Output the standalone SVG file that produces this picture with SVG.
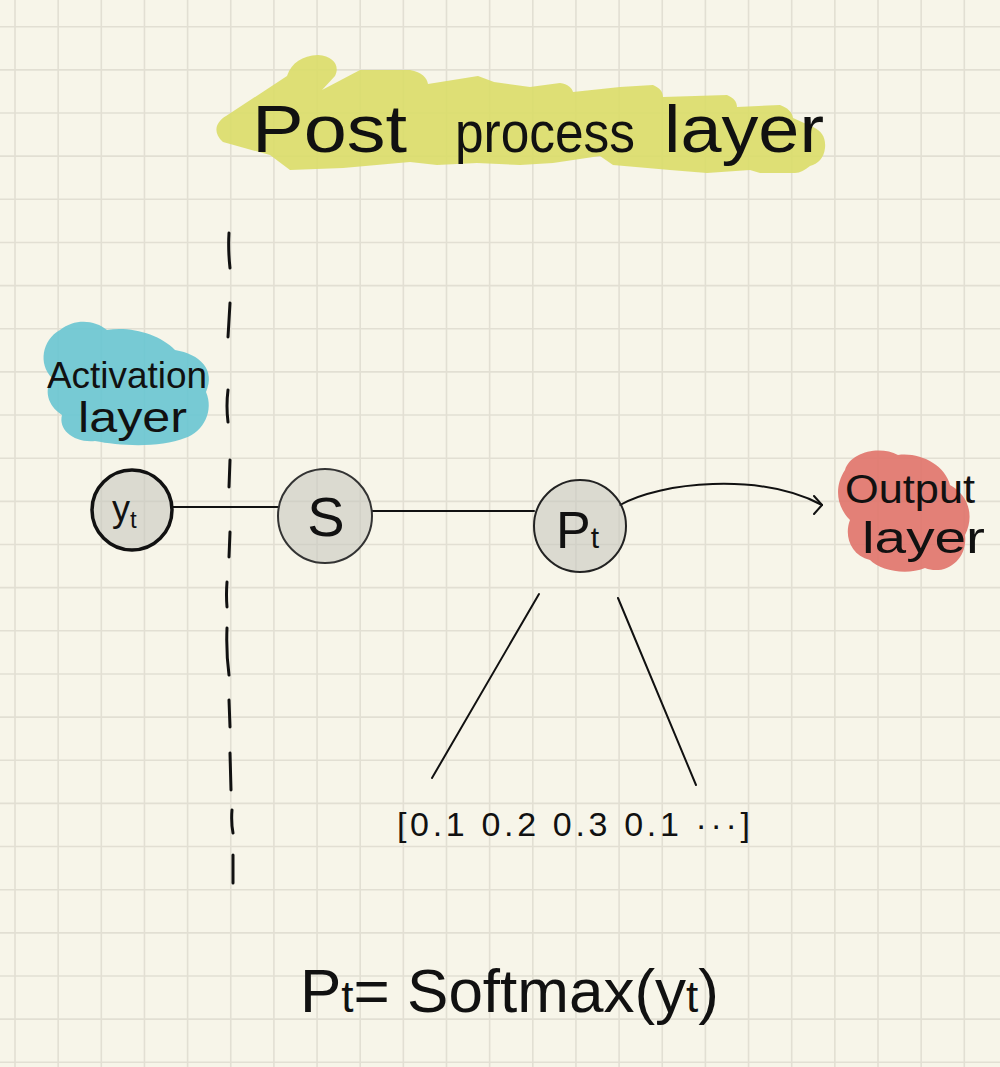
<svg xmlns="http://www.w3.org/2000/svg" width="1000" height="1067" viewBox="0 0 1000 1067">
  <defs>
    <style>
      .grid { stroke: #e2dfd3; stroke-width: 1.6; fill: none; }
      .hand { font-family: "Liberation Sans", "DejaVu Sans", sans-serif; fill: #111; }
      .node { fill: #c8c8c0; fill-opacity: 0.6; }
      .conn { stroke: #111; stroke-width: 2; fill: none; stroke-linecap: round; }
      .dash { stroke: #111; stroke-width: 3; fill: none; stroke-linecap: round; }
      .blob { opacity: 0.9; }
    </style>
    <marker id="chev" viewBox="0 0 10 20" refX="9" refY="10" markerWidth="10" markerHeight="20" markerUnits="userSpaceOnUse" orient="0">
      <path d="M1,1 L9,10 L1,19" fill="none" stroke="#111" stroke-width="2" stroke-linecap="round" stroke-linejoin="round"/>
    </marker>
  </defs>

  <rect width="1000" height="1067" fill="#f7f5e9"/>

  <g id="grid">
    <path class="grid" d="M15 0V1067M58.15 0V1067M101.3 0V1067M144.45 0V1067M187.6 0V1067M230.75 0V1067M273.9 0V1067M317.05 0V1067M360.2 0V1067M403.35 0V1067M446.5 0V1067M489.65 0V1067M532.8 0V1067M575.95 0V1067M619.1 0V1067M662.25 0V1067M705.4 0V1067M748.55 0V1067M791.7 0V1067M834.85 0V1067M878 0V1067M921.15 0V1067M964.3 0V1067"/>
    <path class="grid" d="M0 26.7H1000M0 69.85H1000M0 113H1000M0 156.15H1000M0 199.3H1000M0 242.45H1000M0 285.6H1000M0 328.75H1000M0 371.9H1000M0 415.05H1000M0 458.2H1000M0 501.35H1000M0 544.5H1000M0 587.65H1000M0 630.8H1000M0 673.95H1000M0 717.1H1000M0 760.25H1000M0 803.4H1000M0 846.55H1000M0 889.7H1000M0 932.85H1000M0 976H1000M0 1019.15H1000M0 1062.3H1000"/>
  </g>

  <g id="title">
    <path class="blob" fill="#dadd68" d="M223 142 C212 132 216 122 226 116 L287 76 C292 62 302 56 318 55 C334 56 340 66 335 76 L322 90 L360 70 L410 70 C422 72 427 78 428 84 L478 76 L494 82 L530 87 L560 83 C568 84 572 88 573 92 L620 87 L653 85 C660 88 663 92 663 97 L727 95 C734 98 737 102 737 107 L780 105 C788 108 792 112 793 118 L813 127 C822 131 826 138 825 148 C824 158 818 164 810 166 C805 170 800 173 795 173 L760 173 L750 170 L707 173 L670 170 L613 165 L600 156 L553 163 L520 165 L477 163 L437 165 L410 162 L343 168 L290 170 L270 155 Z"/>
    <text class="hand" y="152"><tspan x="252" font-size="66" textLength="155" lengthAdjust="spacingAndGlyphs">Post</tspan> <tspan x="455" font-size="58" textLength="180" lengthAdjust="spacingAndGlyphs">process</tspan> <tspan x="664" font-size="66" textLength="160" lengthAdjust="spacingAndGlyphs">layer</tspan></text>
  </g>

  <g id="activation-label">
    <path class="blob" fill="#68c5d2" d="M60 330 C75 318 95 320 107 330 C130 326 160 334 175 350 C200 354 216 370 206 392 C214 410 204 432 185 438 C160 448 120 446 95 441 C74 443 58 430 62 415 C47 405 44 390 52 378 C38 364 42 340 60 330 Z"/>
    <text class="hand"><tspan x="47" y="388" font-size="36" textLength="160" lengthAdjust="spacingAndGlyphs">Activation</tspan> <tspan x="78" y="432" font-size="42" textLength="109" lengthAdjust="spacingAndGlyphs">layer</tspan></text>
  </g>

  <g id="output-label">
    <path class="blob" fill="#e0736a" d="M845 470 C850 452 880 445 898 455 C920 452 945 465 950 485 C968 495 975 515 965 535 C968 560 945 576 925 568 C905 576 880 570 870 560 C850 555 844 535 850 520 C835 505 835 485 845 470 Z"/>
    <text class="hand"><tspan x="845" y="503" font-size="40" textLength="130" lengthAdjust="spacingAndGlyphs">Output</tspan> <tspan x="862" y="553" font-size="44" textLength="123" lengthAdjust="spacingAndGlyphs">layer</tspan></text>
  </g>

  <g id="separator">
    <path class="dash" d="M229 233 Q228 250 230 268 M230 303 L228 337 M228 390 Q226 406 228 422 M230 460 L229 487 M230 532 L229 557 M227 582 Q226 595 227 607 M227 628 Q226 652 229 675 M229 700 L230 727 M230 753 L231 790 M232 810 Q231 822 233 833 M233 855 L233 883"/>
  </g>

  <g id="connectors">
    <line class="conn" x1="172" y1="507" x2="278" y2="507"/>
    <line class="conn" x1="372" y1="511" x2="534" y2="511"/>
    <path class="conn" d="M620 505 C660 482 760 472 822 505" marker-end="url(#chev)"/>
    <line class="conn" x1="539" y1="594" x2="432" y2="778"/>
    <line class="conn" x1="618" y1="598" x2="696" y2="785"/>
  </g>

  <g id="node-yt">
    <circle class="node" cx="132" cy="510" r="40" stroke="#111" stroke-width="3.5"/>
    <text class="hand" x="112" y="521" font-size="36">y<tspan font-size="24" dy="7">t</tspan></text>
  </g>

  <g id="node-s">
    <circle class="node" cx="325" cy="516" r="47" stroke="#333" stroke-width="2"/>
    <text class="hand" x="326" y="536" font-size="56" text-anchor="middle">S</text>
  </g>

  <g id="node-pt">
    <circle class="node" cx="580" cy="526" r="46" stroke="#222" stroke-width="2"/>
    <text class="hand" x="556" y="548" font-size="52">P<tspan font-size="30">t</tspan></text>
  </g>

  <g id="vector">
    <text class="hand" x="397" y="836" font-size="34" textLength="353" lengthAdjust="spacing">[0.1 0.2 0.3 0.1 ···]</text>
  </g>

  <g id="formula">
    <text class="hand" x="300" y="1012" font-size="62">P<tspan font-size="44">t</tspan>= Softmax(y<tspan font-size="44">t</tspan>)</text>
  </g>
</svg>
